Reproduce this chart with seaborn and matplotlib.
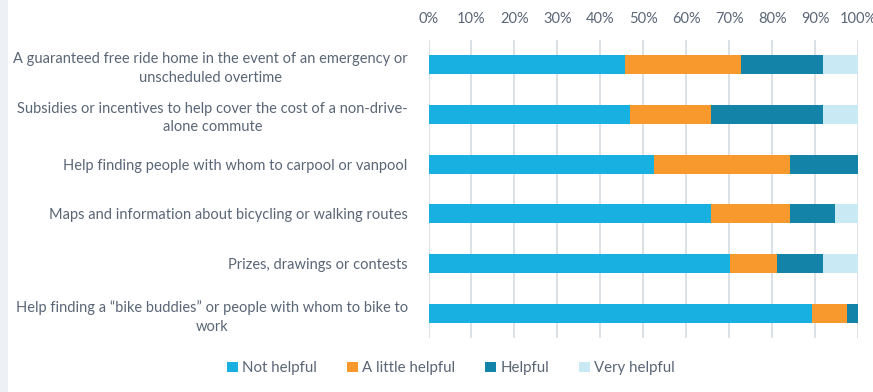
import matplotlib
matplotlib.use("Agg")
import matplotlib.pyplot as plt
import seaborn as sns
import pandas as pd
import numpy as np
from matplotlib.patches import Patch, Rectangle
from matplotlib.ticker import PercentFormatter

categories = [
    "A guaranteed free ride home in the event of an emergency or\nunscheduled overtime",
    "Subsidies or incentives to help cover the cost of a non-drive-\nalone commute",
    "Help finding people with whom to carpool or vanpool",
    "Maps and information about bicycling or walking routes",
    "Prizes, drawings or contests",
    "Help finding a \u201cbike buddies\u201d or people with whom to bike to\nwork",
]
not_helpful = [45.8, 47.0, 52.5, 65.7, 70.2, 89.4]
a_little_helpful = [26.9, 18.7, 31.6, 18.4, 10.9, 8.0]
helpful = [19.1, 26.1, 15.9, 10.6, 10.7, 2.6]
very_helpful = [8.2, 8.2, 0.0, 5.3, 8.2, 0.0]

series_names = ["Not helpful", "A little helpful", "Helpful", "Very helpful"]
series_values = [not_helpful, a_little_helpful, helpful, very_helpful]
colors = ["#17B0E0", "#F7992D", "#1483A8", "#C9E9F5"]
text_color = "#5A6676"

sns.set_theme(style="white")
plt.rcParams["font.family"] = ["Lato", "DejaVu Sans"]

fig = plt.figure(figsize=(8.73, 3.92), dpi=100)
fig.patches.append(Rectangle((0, 0), 8 / 873, 1, transform=fig.transFigure,
                             facecolor="#EDF1F5", edgecolor="none", zorder=0))
ax = fig.add_axes([428.5 / 873, 1 - 338 / 392, (858 - 428.5) / 873, (338 - 40) / 392])

# Stacked bars: draw cumulative totals from the outermost segment inward
cum = np.cumsum(np.array(series_values), axis=0)
for i in reversed(range(len(series_names))):
    df = pd.DataFrame({"category": categories, "value": cum[i]})
    sns.barplot(data=df, x="value", y="category", color=colors[i], width=0.38,
                saturation=1, ax=ax, zorder=3, linewidth=0)

ax.set_xlim(0, 100)
ax.set_ylim(5.5, -0.5)
ax.set_xticks(np.arange(0, 101, 10))
ax.xaxis.set_major_formatter(PercentFormatter(decimals=0))
ax.xaxis.tick_top()
ax.xaxis.set_label_position("top")
ax.set_xlabel("")
ax.set_ylabel("")
ax.grid(axis="x", color="#D6DBE0", linewidth=1.2, zorder=0)
ax.grid(axis="y", visible=False)
for s in ax.spines.values():
    s.set_visible(False)
ax.tick_params(axis="x", length=0, pad=10, labelsize=10.5, labelcolor=text_color)
ax.tick_params(axis="y", length=0, pad=15, labelsize=10.5, labelcolor=text_color)
for lbl in ax.get_yticklabels():
    lbl.set_multialignment("center")
    lbl.set_linespacing(1.4)

handles = [Patch(facecolor=c, edgecolor="none", label=n) for n, c in zip(series_names, colors)]
fig.legend(handles=handles, loc="center", bbox_to_anchor=(451 / 873, 1 - 368 / 392),
           ncol=4, frameon=False, fontsize=10.8, labelcolor=text_color,
           handlelength=0.7, handleheight=0.7, handletextpad=0.3, columnspacing=2.0)

fig.savefig("out.png", dpi=100, facecolor="white")
